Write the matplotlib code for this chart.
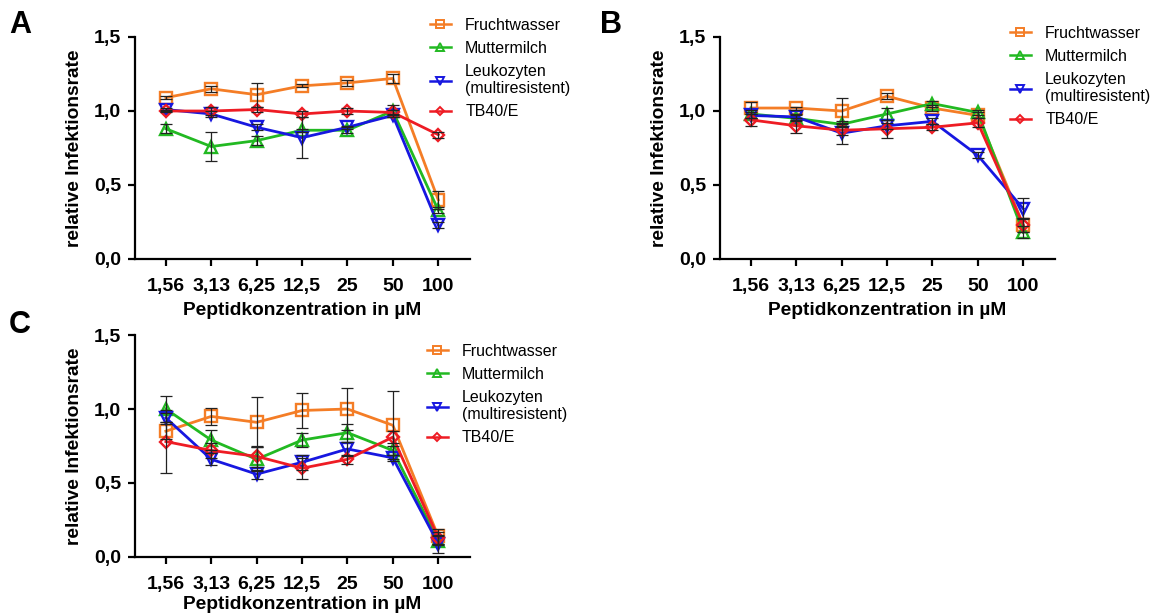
import numpy as np
import matplotlib
matplotlib.use("Agg")
import matplotlib.pyplot as plt
from matplotlib.lines import Line2D

plt.rcParams['font.family'] = ['Liberation Sans', 'DejaVu Sans']

# concentrations (category labels on the x axis)
conc = ["1,56", "3,13", "6,25", "12,5", "25", "50", "100"]
series = ["Fruchtwasser", "Muttermilch", "Leukozyten\n(multiresistent)", "TB40/E"]

# panel A
a_frucht = [1.09, 1.15, 1.11, 1.17, 1.19, 1.22, 0.40]
a_frucht_err = [0.01, 0.02, 0.08, 0.01, 0.02, 0.03, 0.06]
a_mutter = [0.88, 0.76, 0.80, 0.87, 0.87, 1.00, 0.33]
a_mutter_err = [0.03, 0.10, 0.03, 0.01, 0.02, 0.04, 0.02]
a_leuko = [1.01, 0.98, 0.89, 0.82, 0.89, 0.97, 0.23]
a_leuko_err = [0.01, 0.02, 0.02, 0.14, 0.01, 0.01, 0.02]
a_tb = [1.00, 1.00, 1.01, 0.98, 1.00, 0.99, 0.84]
a_tb_err = [0.01, 0.03, 0.02, 0.02, 0.02, 0.02, 0.02]

# panel B
b_frucht = [1.02, 1.02, 1.00, 1.10, 1.02, 0.97, 0.23]
b_frucht_err = [0.04, 0.01, 0.09, 0.02, 0.02, 0.02, 0.05]
b_mutter = [0.98, 0.95, 0.91, 0.98, 1.05, 0.99, 0.18]
b_mutter_err = [0.03, 0.02, 0.02, 0.04, 0.02, 0.02, 0.04]
b_leuko = [0.97, 0.96, 0.85, 0.90, 0.93, 0.70, 0.34]
b_leuko_err = [0.02, 0.02, 0.07, 0.02, 0.02, 0.02, 0.07]
b_tb = [0.94, 0.90, 0.87, 0.88, 0.89, 0.92, 0.23]
b_tb_err = [0.04, 0.05, 0.03, 0.06, 0.02, 0.03, 0.05]

# panel C
c_frucht = [0.85, 0.95, 0.91, 0.99, 1.00, 0.89, 0.14]
c_frucht_err = [0.05, 0.06, 0.17, 0.12, 0.14, 0.23, 0.05]
c_mutter = [1.00, 0.79, 0.66, 0.79, 0.84, 0.72, 0.11]
c_mutter_err = [0.09, 0.07, 0.08, 0.05, 0.06, 0.03, 0.03]
c_leuko = [0.94, 0.66, 0.56, 0.64, 0.73, 0.67, 0.09]
c_leuko_err = [0.03, 0.04, 0.03, 0.05, 0.05, 0.02, 0.06]
c_tb = [0.78, 0.72, 0.68, 0.60, 0.66, 0.81, 0.13]
c_tb_err = [0.21, 0.05, 0.07, 0.07, 0.03, 0.04, 0.04]

colors = ['#f47d26', '#22b922', '#1717e0', '#ee1c24']
markers = ['s', '^', 'v', 'D']
msizes = [8.5, 8.5, 8.5, 6.5]

W, H = 1151, 616
fig = plt.figure(figsize=(W / 100, H / 100), dpi=100)


def px_axes(left, top, right, bottom):
    return fig.add_axes([left / W, 1 - bottom / H, (right - left) / W, (bottom - top) / H])


def panel(ax, data, errs, letter, letter_xy, leg_xy, xlabpad=5):
    x = np.arange(len(conc))
    for i, (y, e) in enumerate(zip(data, errs)):
        ax.plot(x, y, color=colors[i], lw=2.0, marker=markers[i], ms=msizes[i],
                mfc='none', mec=colors[i], mew=1.7, zorder=2 + i)
        ax.errorbar(x, y, yerr=e, fmt='none', ecolor='#222222', elinewidth=0.9,
                    capsize=4, capthick=0.9, zorder=10)
    ax.set_xlim(-0.68, 6.7)
    ax.set_ylim(0, 1.5)
    ax.set_yticks([0, 0.5, 1.0, 1.5])
    ax.set_yticklabels(["0,0", "0,5", "1,0", "1,5"])
    ax.set_xticks(x)
    ax.set_xticklabels(conc)
    for s in ['top', 'right']:
        ax.spines[s].set_visible(False)
    for s in ['left', 'bottom']:
        ax.spines[s].set_linewidth(1.6)
    ax.tick_params(width=1.6, length=5, labelsize=14)
    ax.tick_params(axis='x', pad=9)
    ax.tick_params(axis='y', pad=5)
    for lab in ax.get_xticklabels() + ax.get_yticklabels():
        lab.set_fontweight('bold')
    ax.set_xlabel("Peptidkonzentration in µM", fontsize=13.8, fontweight='bold', labelpad=xlabpad)
    ax.set_ylabel("relative Infektionsrate", fontsize=13.8, fontweight='bold', labelpad=8)
    fig.text(letter_xy[0] / W, 1 - letter_xy[1] / H, letter, fontsize=22,
             fontweight='bold', ha='center', va='center')
    handles = [Line2D([], [], color=colors[i], lw=1.8, marker=markers[i],
                      ms=msizes[i] - 2.5, mfc='none', mec=colors[i], mew=1.4)
               for i in range(4)]
    ax.legend(handles, series, loc='upper left',
              bbox_to_anchor=(leg_xy[0] / W, 1 - leg_xy[1] / H),
              bbox_transform=fig.transFigure, frameon=False, fontsize=11.5,
              borderpad=0, handlelength=1.3, handletextpad=0.9, labelspacing=0.5)


axA = px_axes(135, 37, 470, 259)
panel(axA, [a_frucht, a_mutter, a_leuko, a_tb],
      [a_frucht_err, a_mutter_err, a_leuko_err, a_tb_err], "A", (20, 25), (422, 10))

axB = px_axes(720, 37, 1055, 259)
panel(axB, [b_frucht, b_mutter, b_leuko, b_tb],
      [b_frucht_err, b_mutter_err, b_leuko_err, b_tb_err], "B", (611, 25), (1002, 18))

axC = px_axes(135, 335, 470, 557)
panel(axC, [c_frucht, c_mutter, c_leuko, c_tb],
      [c_frucht_err, c_mutter_err, c_leuko_err, c_tb_err], "C", (20, 325), (419, 336),
      xlabpad=2)

fig.savefig("out.png", dpi=100)
